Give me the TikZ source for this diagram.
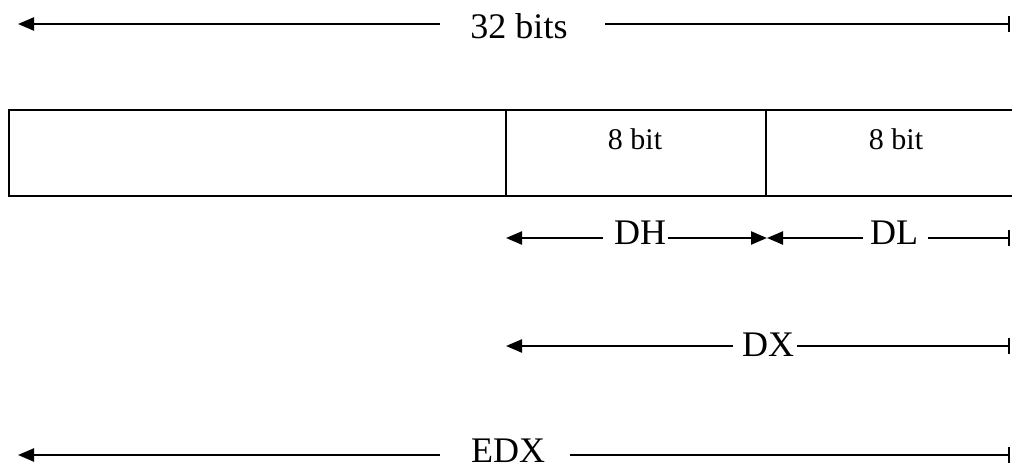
\documentclass[tikz,border=0pt]{standalone}
\usepackage{fontspec}
\setmainfont{Liberation Serif}
\usetikzlibrary{arrows.meta}
\begin{document}
\begin{tikzpicture}[x=1pt,y=-1pt,
  dim/.style={line width=2.3pt},
  head/.style={-{Triangle[length=16pt,width=13pt]}},
  barend/.style={-{Bar[width=16pt,line width=2.3pt]}},
  big/.style={font=\fontsize{36}{36}\selectfont, inner sep=0pt},
  small/.style={font=\fontsize{30}{30}\selectfont, inner sep=0pt},
  frame/.style={line width=2pt}]
\useasboundingbox (0,0) rectangle (1012,471);
\fill[white] (0,0) rectangle (1012,471);

% register box
\coordinate (tl) at (9,110);
\coordinate (bl) at (9,196);
\coordinate (tr) at (1012,110);
\coordinate (br) at (1012,196);
\draw[frame] (tr) -- (tl) -- (bl) -- (br);
\coordinate (d1t) at (506,110);
\coordinate (d1b) at (506,196);
\coordinate (d2t) at (766,110);
\coordinate (d2b) at (766,196);
\draw[frame] (d1t) -- (d1b);
\draw[frame] (d2t) -- (d2b);
\node[small] (b1) at (635,139) {8 bit};
\node[small] (b2) at (896,139) {8 bit};

% 32 bits
\node[big] (t32) at (519,26) {32 bits};
\coordinate (t32L) at (18,24);
\coordinate (t32a) at (440,24);
\coordinate (t32b) at (605,24);
\coordinate (t32R) at (1010,24);
\draw[dim,head] (t32a) -- (t32L);
\draw[dim,barend] (t32b) -- (t32R);

% DH / DL
\node[big] (dh) at (640,233) {DH};
\node[big] (dl) at (894,233) {DL};
\coordinate (dhL) at (506,238);
\coordinate (dha) at (603,238);
\coordinate (dhb) at (668,238);
\coordinate (mid) at (767,238);
\coordinate (dla) at (863,238);
\coordinate (dlb) at (928,238);
\coordinate (dlR) at (1010,238);
\draw[dim,head] (dha) -- (dhL);
\draw[dim,head] (dhb) -- (mid);
\draw[dim,head] (dla) -- (mid);
\draw[dim,barend] (dlb) -- (dlR);

% DX
\node[big] (dx) at (768,345) {DX};
\coordinate (dxL) at (506,346);
\coordinate (dxa) at (733,346);
\coordinate (dxb) at (797,346);
\coordinate (dxR) at (1010,346);
\draw[dim,head] (dxa) -- (dxL);
\draw[dim,barend] (dxb) -- (dxR);

% EDX
\node[big] (edx) at (508,451) {EDX};
\coordinate (edxL) at (18,455);
\coordinate (edxa) at (440,455);
\coordinate (edxb) at (570,455);
\coordinate (edxR) at (1010,455);
\draw[dim,head] (edxa) -- (edxL);
\draw[dim,barend] (edxb) -- (edxR);
\end{tikzpicture}
\end{document}
